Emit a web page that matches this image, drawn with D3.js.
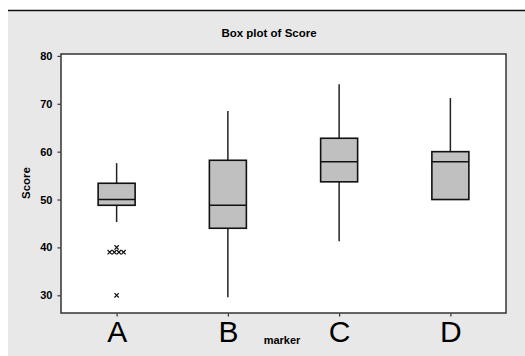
<!DOCTYPE html>
<html>
<head>
<meta charset="utf-8">
<script src="https://cdn.jsdelivr.net/npm/d3@7"></script>
<style>
  html, body { margin: 0; padding: 0; background: #fff; }
  svg { display: block; }
  text { font-family: "Liberation Sans", Arial, sans-serif; fill: #000; }
</style>
</head>
<body>
<svg id="chart" width="525" height="356"></svg>
<script>
// Box plot of Score by marker
const categories = ["A", "B", "C", "D"];
const whiskerLow  = [45.3, 29.6, 41.3, 50.0];
const q1          = [48.8, 44.0, 53.7, 50.0];
const medians     = [50.0, 48.8, 57.9, 57.9];
const q3          = [53.4, 58.2, 62.8, 60.0];
const whiskerHigh = [57.6, 68.5, 74.1, 71.2];
const outlierGroup  = ["A", "A", "A", "A", "A", "A"];
const outlierValues = [39, 39, 39, 39, 40, 30];
const yTicks = [30, 40, 50, 60, 70, 80];

const svg = d3.select("#chart");
const W = 525, H = 356;
const plot = { left: 61, right: 506, top: 54, bottom: 313 };

// page background panel with dark rule along its top
svg.append("rect").attr("x", 8).attr("y", 11).attr("width", W - 8).attr("height", H - 11)
  .attr("fill", "#e8e8e8");
svg.append("line").attr("x1", 8).attr("x2", W).attr("y1", 10.5).attr("y2", 10.5)
  .attr("stroke", "#111").attr("stroke-width", 1.6);

// plotting region
svg.append("rect")
  .attr("x", plot.left).attr("y", plot.top)
  .attr("width", plot.right - plot.left).attr("height", plot.bottom - plot.top)
  .attr("fill", "#fff").attr("stroke", "#333").attr("stroke-width", 1.5);

const x = d3.scalePoint().domain(categories).range([plot.left, plot.right]).padding(0.5);
const y = d3.scaleLinear().domain([26.3, 80.4]).range([plot.bottom, plot.top]);

// y axis
const yAxis = svg.append("g")
  .attr("transform", `translate(${plot.left - 0.5},0)`)
  .call(d3.axisLeft(y).tickValues(yTicks).tickSize(3).tickPadding(5).tickFormat(d3.format("d")));
yAxis.select(".domain").remove();
yAxis.selectAll(".tick line").attr("stroke", "#333").attr("stroke-width", 1.2);
yAxis.selectAll(".tick text").style("font-size", "11px").style("font-weight", "bold")
  .attr("fill", "#111");

// x axis
const xAxis = svg.append("g")
  .attr("transform", `translate(0,${plot.bottom + 0.5})`)
  .call(d3.axisBottom(x).tickSize(3).tickPadding(4));
xAxis.select(".domain").remove();
xAxis.selectAll(".tick line").attr("stroke", "#333").attr("stroke-width", 1.2);
xAxis.selectAll(".tick text").style("font-size", "30px").attr("dy", "0.72em").attr("fill", "#111");

// boxes
const boxW = 37;
const rows = categories.map((c, i) => ({
  c, lo: whiskerLow[i], q1: q1[i], med: medians[i], q3: q3[i], hi: whiskerHigh[i]
}));
const g = svg.append("g");
rows.forEach(r => {
  const cx = x(r.c);
  if (r.hi > r.q3) {
    g.append("line").attr("x1", cx).attr("x2", cx).attr("y1", y(r.q3)).attr("y2", y(r.hi))
      .attr("stroke", "#222").attr("stroke-width", 1.5);
  }
  if (r.lo < r.q1) {
    g.append("line").attr("x1", cx).attr("x2", cx).attr("y1", y(r.q1)).attr("y2", y(r.lo))
      .attr("stroke", "#222").attr("stroke-width", 1.5);
  }
  g.append("rect")
    .attr("x", cx - boxW / 2).attr("y", y(r.q3))
    .attr("width", boxW).attr("height", y(r.q1) - y(r.q3))
    .attr("fill", "#c0c0c0").attr("stroke", "#111").attr("stroke-width", 1.6);
  g.append("line").attr("x1", cx - boxW / 2).attr("x2", cx + boxW / 2)
    .attr("y1", y(r.med)).attr("y2", y(r.med))
    .attr("stroke", "#111").attr("stroke-width", 1.6);
});

// outliers: identical values are laid side by side
const counts = {};
outlierValues.forEach((v, i) => {
  const k = outlierGroup[i] + "|" + v;
  counts[k] = (counts[k] || 0) + 1;
});
const seen = {};
const sym = d3.symbol().type(d3.symbolX).size(14);
outlierValues.forEach((v, i) => {
  const k = outlierGroup[i] + "|" + v;
  const n = counts[k];
  const j = seen[k] = (seen[k] === undefined ? 0 : seen[k] + 1);
  const dx = (j - (n - 1) / 2) * 4.6;
  svg.append("path")
    .attr("d", sym)
    .attr("transform", `translate(${x(outlierGroup[i]) + dx},${y(v)})`)
    .attr("fill", "none").attr("stroke", "#111").attr("stroke-width", 1.2);
});

// titles
svg.append("text").attr("x", 269).attr("y", 37).attr("text-anchor", "middle")
  .style("font-size", "11.5px").style("font-weight", "bold").text("Box plot of Score");
svg.append("text").attr("transform", "translate(30,183) rotate(-90)")
  .attr("text-anchor", "middle").style("font-size", "11.5px").style("font-weight", "bold")
  .text("Score");
svg.append("text").attr("x", 282).attr("y", 344).attr("text-anchor", "middle")
  .style("font-size", "11px").style("font-weight", "bold").text("marker");
</script>
</body>
</html>
